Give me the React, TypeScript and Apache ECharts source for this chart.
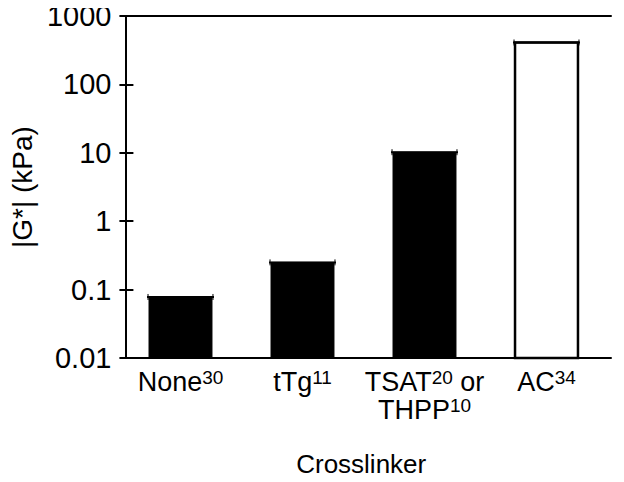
import React, { useEffect, useRef } from "react";
import * as echarts from "echarts";

const categories = ["None", "tTg", "TSAT", "AC"];
const categoryLabels = [
  "{a|None}{s|30}",
  "{a|tTg}{s|11}",
  "{a|TSAT}{s|20}{a| or}\n{a|THPP}{s|10}",
  "{a|AC}{s|34}",
];
const values = [0.078, 0.25, 10.2, 410];
const barFill = ["#000000", "#000000", "#000000", "#ffffff"];
const yTicks = [0.01, 0.1, 1, 10, 100, 1000];

const FONT = "'Liberation Sans', Arial, Helvetica, sans-serif";

export default function App() {
  const ref = useRef<HTMLDivElement>(null);
  useEffect(() => {
    if (!ref.current) return;
    const chart = echarts.init(ref.current, undefined, { renderer: "svg" });
    const top = 16;
    const height = 342;
    const yMin = yTicks[0];
    const logAxisBase = {
      type: "log" as const,
      logBase: 10,
      min: yMin,
      max: yTicks[yTicks.length - 1],
      splitLine: { show: false },
    };
    chart.setOption({
      animation: false,
      backgroundColor: "#ffffff",
      textStyle: { fontFamily: FONT, color: "#000" },
      grid: [
        { left: 102, top, width: 509, height, containLabel: false },
        { left: 119.5, top, width: 488, height, containLabel: false },
      ],
      xAxis: [
        {
          gridIndex: 0,
          type: "value",
          min: 0,
          max: 1,
          position: "bottom",
          axisLine: { show: true, onZero: false, lineStyle: { color: "#000", width: 2 } },
          axisTick: { show: false },
          axisLabel: { show: false },
          splitLine: { show: false },
          name: "Crosslinker",
          nameLocation: "middle",
          nameGap: 93,
          nameTextStyle: { fontSize: 26, color: "#000", fontFamily: FONT, padding: [0, 14, 0, 0] },
        },
        {
          gridIndex: 0,
          type: "value",
          min: 0,
          max: 1,
          position: "top",
          axisLine: { show: true, onZero: false, lineStyle: { color: "#000", width: 2 } },
          axisTick: { show: false },
          axisLabel: { show: false },
          splitLine: { show: false },
        },
        {
          gridIndex: 1,
          type: "category",
          data: categories,
          position: "bottom",
          axisLine: { show: false },
          axisTick: { show: false },
          splitLine: { show: false },
          axisLabel: {
            margin: 10,
            interval: 0,
            formatter: (_v: string, i: number) => categoryLabels[i],
            rich: {
              a: { fontSize: 27, lineHeight: 28, color: "#000", fontFamily: FONT },
              s: { fontSize: 19, lineHeight: 9, verticalAlign: "top", color: "#000", fontFamily: FONT },
            },
          },
        },
      ],
      yAxis: [
        {
          ...logAxisBase,
          gridIndex: 0,
          position: "left",
          axisLine: { show: true, lineStyle: { color: "#000", width: 2 } },
          axisTick: { show: true, inside: true, length: 8, lineStyle: { color: "#000", width: 2 } },
          axisLabel: {
            fontSize: 29,
            color: "#000",
            fontFamily: FONT,
            margin: 14,
            formatter: (v: number) => String(v),
          },
          name: "|G*| (kPa)",
          nameLocation: "middle",
          nameGap: 60,
          nameTextStyle: { fontSize: 28, color: "#000", fontFamily: FONT },
        },
        {
          ...logAxisBase,
          gridIndex: 0,
          position: "right",
          axisLine: { show: true, lineStyle: { color: "#000", width: 2 } },
          axisTick: { show: true, inside: true, length: 6, lineStyle: { color: "#000", width: 2 } },
          axisLabel: { show: false },
        },
        {
          ...logAxisBase,
          gridIndex: 1,
          show: false,
        },
      ],
      series: [
        {
          type: "custom",
          xAxisIndex: 2,
          yAxisIndex: 2,
          encode: { x: 0, y: 1 },
          data: values.map((v, i) => [i, v]),
          renderItem: (params: any, api: any) => {
            const i = api.value(0) as number;
            const v = api.value(1) as number;
            const t = api.coord([i, v]);
            const b = api.coord([i, yMin]);
            const w = api.size([1, 0])[0] * 0.516;
            const x0 = t[0] - w / 2;
            const x1 = t[0] + w / 2;
            const white = barFill[i] === "#ffffff";
            return {
              type: "group",
              children: [
                {
                  type: "rect",
                  shape: { x: x0, y: t[1], width: w, height: b[1] - t[1] },
                  style: {
                    fill: barFill[i],
                    stroke: "#000",
                    lineWidth: white ? 2.5 : 1,
                  },
                },
                {
                  type: "line",
                  shape: { x1: x0 - 2, y1: t[1], x2: x1 + 2, y2: t[1] },
                  style: { stroke: "#000", lineWidth: 2 },
                },
                {
                  type: "line",
                  shape: { x1: x0 - 1, y1: t[1] - 3, x2: x0 - 1, y2: t[1] + 3 },
                  style: { stroke: "#000", lineWidth: 1 },
                },
                {
                  type: "line",
                  shape: { x1: x1 + 1, y1: t[1] - 3, x2: x1 + 1, y2: t[1] + 3 },
                  style: { stroke: "#000", lineWidth: 1 },
                },
              ],
            };
          },
        },
      ],
    });
    return () => chart.dispose();
  }, []);
  return <div ref={ref} style={{ width: 624, height: 482, margin: -8 }} />;
}
